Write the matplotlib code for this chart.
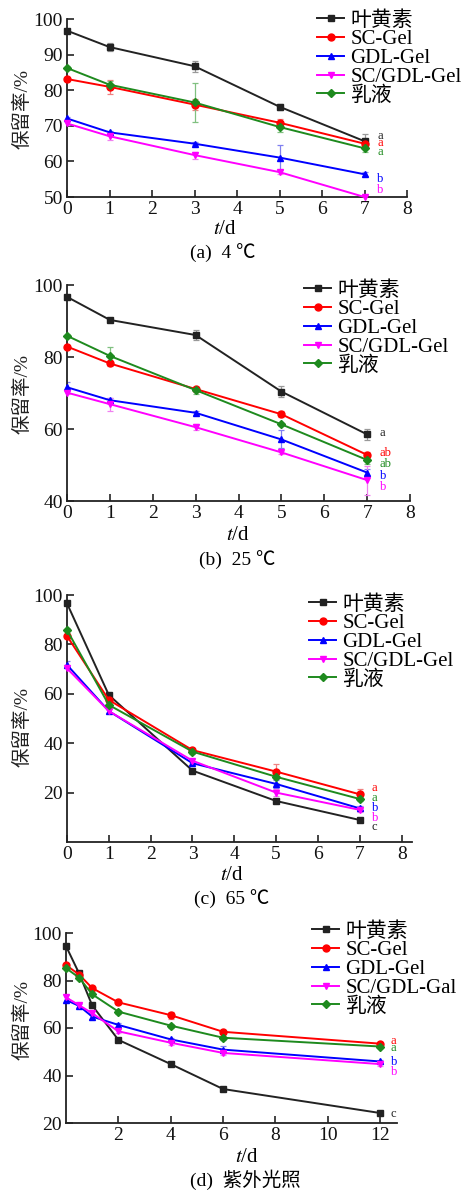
import matplotlib
matplotlib.use('Agg')
import matplotlib.pyplot as plt
import numpy as np

plt.rcParams['font.family'] = ['Liberation Serif', 'Noto Sans CJK SC']
plt.rcParams['mathtext.fontset'] = 'stix'

names = ['叶黄素', 'SC-Gel', 'GDL-Gel', 'SC/GDL-Gel', '乳液']
names_d = ['叶黄素', 'SC-Gel', 'GDL-Gel', 'SC/GDL-Gal', '乳液']
colors = ['#222222', '#ff0000', '#0000ff', '#ff00ff', '#1e8a1e']
err_colors = ['#999999', '#f08080', '#8080f0', '#f080f0', '#80c080']
markers = ['s', 'o', '^', 'v', 'D']

# (a) 4 C
days = [0, 1, 3, 5, 7]
a_vals = [[96.8, 92.2, 86.8, 75.4, 65.7],
          [83.2, 81.0, 76.0, 70.9, 65.0],
          [72.1, 68.2, 65.0, 61.1, 56.4],
          [70.7, 67.1, 61.8, 57.0, 50.0],
          [86.3, 81.6, 76.6, 69.7, 63.7]]
a_err = [[0.5, 1.0, 1.5, 0.8, 2.0],
         [0.5, 2.0, 1.5, 1.0, 1.0],
         [0.5, 0.5, 0.5, 3.5, 0.5],
         [0.5, 1.0, 1.0, 0.5, 0.5],
         [0.5, 1.0, 5.5, 1.5, 1.0]]
a_sig = ['a', 'a', 'b', 'b', 'a']
a_sig_y = [67.1, 65.1, 55.2, 52.0, 62.7]

# (b) 25 C
b_vals = [[96.7, 90.3, 86.1, 70.4, 58.5],
          [82.9, 78.2, 71.1, 64.1, 52.8],
          [71.6, 68.0, 64.5, 57.1, 47.9],
          [70.1, 66.9, 60.5, 53.5, 45.8],
          [85.9, 80.3, 70.8, 61.3, 51.4]]
b_err = [[0.5, 0.5, 1.5, 1.5, 1.5],
         [0.5, 0.8, 0.5, 0.8, 0.8],
         [1.5, 0.5, 0.5, 2.5, 1.0],
         [0.5, 1.8, 0.8, 0.5, 4.0],
         [0.5, 2.5, 1.0, 0.5, 1.0]]
b_sig = ['a', 'ab', 'b', 'b', 'ab']
b_sig_y = [58.9, 53.3, 46.9, 43.9, 50.3]

# (c) 65 C
c_vals = [[96.6, 59.5, 28.9, 16.6, 8.9],
          [83.4, 57.5, 37.2, 28.5, 19.3],
          [71.7, 53.0, 31.9, 23.5, 13.6],
          [70.3, 53.0, 32.9, 20.0, 13.0],
          [85.8, 55.5, 36.6, 26.4, 17.4]]
c_err = [[0.8, 0.8, 0.8, 0.8, 0.8],
         [0.8, 0.8, 0.8, 3.0, 2.0],
         [1.5, 0.8, 0.8, 1.5, 0.8],
         [0.8, 0.8, 0.8, 1.5, 1.0],
         [1.0, 0.8, 0.8, 2.5, 0.8]]
c_sig = ['c', 'a', 'b', 'b', 'a']
c_sig_y = [6.2, 21.7, 13.8, 9.7, 17.8]

# (d) UV
d_days = [0, 0.5, 1, 2, 4, 6, 12]
d_vals = [[94.5, 83.0, 69.5, 55.0, 44.8, 34.3, 24.2],
          [86.5, 82.5, 76.8, 70.8, 65.4, 58.4, 53.4],
          [71.8, 69.3, 64.8, 61.3, 55.2, 50.9, 45.9],
          [72.9, 69.6, 66.2, 58.6, 53.8, 49.5, 44.8],
          [85.2, 81.2, 74.2, 66.9, 61.0, 55.9, 52.2]]
d_err = [[0.5, 0.5, 0.5, 0.5, 0.5, 0.5, 0.5],
         [0.5, 0.5, 0.8, 0.8, 1.5, 0.8, 0.8],
         [0.8, 0.8, 1.2, 0.8, 0.8, 1.5, 0.8],
         [0.8, 0.8, 0.8, 0.8, 0.8, 0.8, 0.8],
         [0.5, 0.5, 0.8, 0.8, 0.8, 0.8, 0.8]]
d_sig = ['c', 'a', 'b', 'b', 'a']
d_sig_y = [23.8, 54.7, 45.8, 41.5, 51.6]

W, H = 465, 1191
fig = plt.figure(figsize=(W / 100, H / 100), dpi=100)


def rect(l, r, t, b):
    return [l / W, 1 - b / H, (r - l) / W, (b - t) / H]


def panel(box, x, vals, errs, sig, sig_y, sig_x, xlim, ylim, xticks, yticks,
          labels, leg_xy, ylab_y, xlab_xy, cap_xy, caption):
    ax = fig.add_axes(rect(*box))
    for i in range(5):
        ax.errorbar(x, vals[i], yerr=errs[i], fmt='none', ecolor=err_colors[i],
                    elinewidth=0.9, capsize=2, capthick=0.9, zorder=2)
    lines = []
    for i in range(5):
        ms = 4 if markers[i] == 'D' else 5
        ln, = ax.plot(x, vals[i], color=colors[i], marker=markers[i], ms=ms,
                      lw=1.4, label=labels[i], zorder=3)
        ln.set_clip_on(False)
        lines.append(ln)
        ax.text(sig_x, sig_y[i], sig[i], color=colors[i], fontsize=9,
                ha='left', va='center')
    ax.set_xlim(*xlim)
    ax.set_ylim(*ylim)
    ax.set_xticks(xticks)
    ax.set_yticks(yticks)
    for s in ['top', 'right']:
        ax.spines[s].set_visible(False)
    for s in ['left', 'bottom']:
        ax.spines[s].set_linewidth(1.3)
        ax.spines[s].set_color('#222222')
    ax.tick_params(direction='in', length=5, width=1.1, labelsize=14, pad=3,
                   colors='#111111')
    ax.legend(handles=lines, loc='upper left',
              bbox_to_anchor=(leg_xy[0] / W, 1 - leg_xy[1] / H),
              bbox_transform=fig.transFigure, frameon=False,
              fontsize=15, labelspacing=-0.04, handlelength=1.3,
              handletextpad=0.3, borderpad=0, borderaxespad=0)
    fig.text(22 / W, 1 - ylab_y / H, '保留率/%', rotation=90, fontsize=14,
             ha='center', va='center', color='#222222')
    fig.text(xlab_xy[0] / W, 1 - xlab_xy[1] / H, '$t$/d', fontsize=15,
             ha='center', va='center')
    fig.text(cap_xy[0] / W, 1 - cap_xy[1] / H, caption, fontsize=14,
             ha='center', va='center')
    return ax


panel((67, 407, 19.3, 197), days, a_vals, a_err, a_sig, a_sig_y, 7.3,
      (0, 8), (50, 100), range(0, 9), range(50, 101, 10), names,
      (317, 11), 109, (225, 230), (223, 253), '(a)  4 ℃')
panel((67, 410, 285, 501), days, b_vals, b_err, b_sig, b_sig_y, 7.3,
      (0, 8), (40, 100), range(0, 9), range(40, 101, 20), names,
      (304, 281), 394, (238, 535), (237, 560), '(b)  25 ℃')
panel((67, 411.7, 595, 842), days, c_vals, c_err, c_sig, c_sig_y, 7.28,
      (0, 8.24), (0, 100), range(0, 9), range(20, 101, 20), names,
      (309, 595), 727, (232, 876), (232, 899), '(c)  65 ℃')
panel((66, 397, 933, 1123), d_days, d_vals, d_err, d_sig, d_sig_y, 12.4,
      (0, 12.64), (20, 100), range(2, 13, 2), range(20, 101, 20), names_d,
      (312, 922), 1020, (247, 1157), (245, 1180), '(d)  紫外光照')

fig.savefig('out.png', dpi=100)
